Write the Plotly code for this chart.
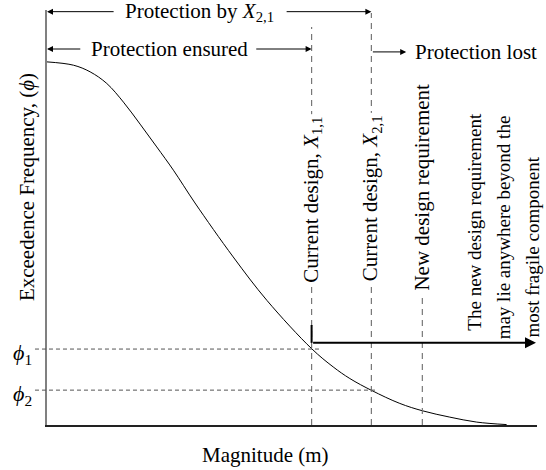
import plotly.graph_objects as go

# ---- data (normalised magnitude 0-100, frequency 0-1) ----
magnitude = [0, 5.4, 8.8, 12.2, 15.6, 19.0, 22.4, 25.8, 30.2, 38.0, 44.9, 54.0, 58.4, 61.8, 66.3, 72.0, 76.7, 82.2, 87.7, 93.8]
frequency = [0.875, 0.867, 0.851, 0.823, 0.778, 0.725, 0.670, 0.614, 0.535, 0.405, 0.300, 0.184, 0.140, 0.112, 0.083, 0.052, 0.034, 0.019, 0.007, 0.001]
x_design = [54.0, 66.2, 76.6]          # X1,1 ; X2,1 ; new requirement
phi_levels = [0.183, 0.084]            # phi1 ; phi2
design_labels = ["Current design, <i>X</i><sub>1,1</sub>",
                 "Current design, <i>X</i><sub>2,1</sub>",
                 "New design requirement"]
note_lines = ["The new design requirement",
              "may lie anywhere beyond the",
              "most fragile component"]

XMIN, XMAX = 0, 100
YMIN, YMAX = 0, 1
FONT = "Liberation Serif"


def xp(x):
    return (x - XMIN) / (XMAX - XMIN)


fig = go.Figure()
fig.add_trace(go.Scatter(x=magnitude, y=frequency, mode="lines",
                         line=dict(color="black", width=1, shape="spline", smoothing=1.0),
                         hoverinfo="skip", showlegend=False))

shapes = []
# vertical dashed design lines
tops = [0.959, 0.993, 0.311]
for xd, top in zip(x_design, tops):
    shapes.append(dict(type="line", xref="x", yref="y", x0=xd, x1=xd, y0=0, y1=top,
                       line=dict(color="#777777", width=1.2, dash="6px,5px")))
# horizontal dashed phi lines
phi_ends = [xp(x_design[0]) + 0.02, xp(x_design[1]) + 0.01]
for ph, xe in zip(phi_levels, phi_ends):
    shapes.append(dict(type="line", xref="paper", yref="paper", x0=-0.0245, x1=xe, y0=ph, y1=ph,
                       line=dict(color="#555555", width=1, dash="4px,3px")))
# thick vertical tick at X1,1
shapes.append(dict(type="line", xref="x", yref="y", x0=x_design[0], x1=x_design[0], y0=0.198, y1=0.241,
                   line=dict(color="black", width=2)))

ann = []
tf = dict(family=FONT, size=21, color="black")


def arrow(x0, y0, x1, y1, w=1, size=1.2):
    ann.append(dict(x=x1, y=y1, ax=x0, ay=y0, xref="x", yref="y", axref="x", ayref="y",
                    text="", showarrow=True, arrowhead=2, arrowsize=size, arrowwidth=w,
                    arrowcolor="black", standoff=0, startstandoff=0))


# thick arrow
arrow(x_design[0], 0.198, 99.8, 0.198, w=2, size=1.1)
# Protection by X2,1
arrow(13.9, 0.996, 0, 0.996)
arrow(48.6, 0.996, x_design[1], 0.996)
ann.append(dict(x=31.2, y=0.996, xref="x", yref="y", text="Protection by <i>X</i><sub>2,1</sub>",
                showarrow=False, font=tf, xanchor="center", yanchor="middle"))
# Protection ensured
arrow(7.1, 0.906, 0, 0.906)
arrow(42.4, 0.906, x_design[0], 0.906)
ann.append(dict(x=25.0, y=0.906, xref="x", yref="y", text="Protection ensured",
                showarrow=False, font=tf, xanchor="center", yanchor="middle"))
# Protection lost
arrow(x_design[1], 0.899, 73.3, 0.899)
ann.append(dict(x=74.7, y=0.899, xref="x", yref="y", text="Protection lost",
                showarrow=False, font=tf, xanchor="left", yanchor="middle"))

# rotated design labels
label_y = [0.542, 0.547, 0.573]
for xd, lab, ly in zip(x_design, design_labels, label_y):
    ann.append(dict(x=xd, y=ly, xref="x", yref="y", text=lab, textangle=-90, showarrow=False,
                    font=tf, bgcolor="white", xanchor="center", yanchor="middle", borderpad=2))

# note lines
note_x = [87.3, 93.1, 99.0]
note_bottom = [0.222, 0.202, 0.205]
for nx, nb, line in zip(note_x, note_bottom, note_lines):
    ann.append(dict(x=nx, y=nb, xref="x", yref="y", text=line, textangle=-90, showarrow=False,
                    font=dict(family=FONT, size=19, color="black"), xanchor="center", yanchor="bottom"))

# phi labels
for i, ph in enumerate(phi_levels):
    ann.append(dict(x=-0.026, y=ph, xref="paper", yref="paper",
                    text="<i>\u03d5</i><sub>%d</sub>" % (i + 1), showarrow=False,
                    font=dict(family=FONT, size=22, color="black"), xanchor="right", yanchor="middle",
                    yshift=-5))

# axis titles
ann.append(dict(x=0.445, y=-0.0723, xref="paper", yref="paper", text="Magnitude (m)",
                showarrow=False, font=tf, xanchor="center", yanchor="middle"))
ann.append(dict(x=-0.041, y=0.573, xref="paper", yref="paper",
                text="Exceedence Frequency, (<i>\u03d5</i>)", textangle=-90,
                showarrow=False, font=tf, xanchor="center", yanchor="middle"))

fig.update_layout(
    width=546, height=470,
    margin=dict(l=47, r=9, t=10, b=45),
    paper_bgcolor="white", plot_bgcolor="white",
    shapes=shapes, annotations=ann,
    xaxis=dict(range=[XMIN, XMAX], showgrid=False, zeroline=False, showticklabels=False,
               ticks="", showline=True, linecolor="#222222", linewidth=1.5, fixedrange=True),
    yaxis=dict(range=[YMIN, YMAX], showgrid=False, zeroline=False, showticklabels=False,
               ticks="", showline=True, linecolor="#808080", linewidth=1.5, fixedrange=True),
    font=dict(family=FONT),
)

fig.write_html("out.html", config={"displayModeBar": False},
               post_script="document.body.style.margin='0';document.body.style.overflow='hidden';")
